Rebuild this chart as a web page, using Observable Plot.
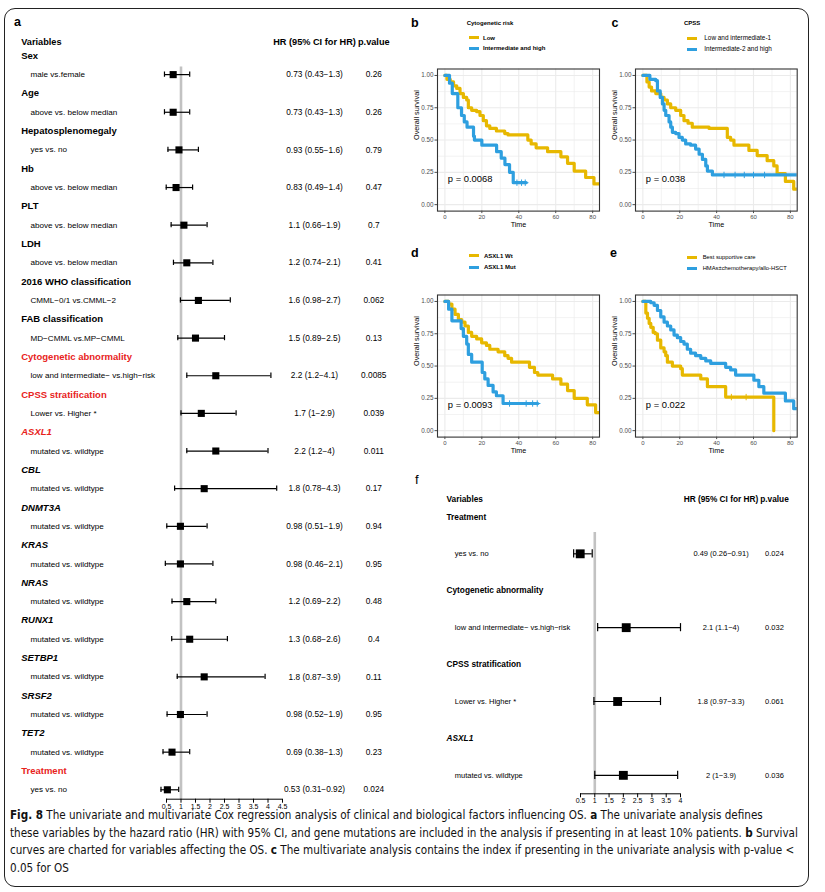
<!DOCTYPE html>
<html><head><meta charset="utf-8">
<script src="https://cdn.jsdelivr.net/npm/d3@7"></script>
<script src="https://cdn.jsdelivr.net/npm/@observablehq/plot@0.6"></script>
<style>
body{margin:0;background:#fff;}
#fig{position:relative;width:825px;height:892px;font-family:"Liberation Sans",Arial,sans-serif;color:#000;overflow:hidden;}
.abs{position:absolute;}
.box{position:absolute;left:4px;top:8px;width:805px;height:879px;border:1px solid #222;border-radius:11px;box-sizing:border-box;}
.plab{position:absolute;font-weight:bold;font-size:12.5px;line-height:12.5px;}
.leg{position:absolute;white-space:nowrap;line-height:8px;height:8px;}
.key{position:absolute;height:3px;width:10px;}
#cap{position:absolute;left:10px;top:807px;font-family:"Liberation Sans Narrow","DejaVu Sans Condensed",sans-serif;font-size:12.5px;line-height:17.7px;white-space:nowrap;color:#111;}
#cap span{display:inline-block;}
</style></head>
<body>
<div id="fig">
  <div class="box"></div>
  <div id="pa" class="abs" style="left:0;top:0"></div>
  <div id="pb" class="abs" style="left:405px;top:0"></div>
  <div id="pc" class="abs" style="left:610px;top:0"></div>
  <div id="pd" class="abs" style="left:405px;top:226px"></div>
  <div id="pe" class="abs" style="left:610px;top:226px"></div>
  <div id="pf" class="abs" style="left:410px;top:460px"></div>
  <div class="plab" style="left:14px;top:16.4px">a</div>
  <div class="plab" style="left:411px;top:17.4px">b</div>
  <div class="plab" style="left:611.5px;top:17.4px">c</div>
  <div class="plab" style="left:411px;top:247.4px">d</div>
  <div class="plab" style="left:610px;top:247.4px">e</div>
  <div class="plab" style="left:415px;top:474.4px;font-weight:normal;font-size:13px">f</div>
  <div id="legends"></div>
  <div id="cap">
    <span id="cl1"><b>Fig. 8</b> The univariate and multivariate Cox regression analysis of clinical and biological factors influencing OS. <b>a</b> The univariate analysis defines</span><br>
    <span id="cl2">these variables by the hazard ratio (HR) with 95% CI, and gene mutations are included in the analysis if presenting in at least 10% patients. <b>b</b> Survival</span><br>
    <span id="cl3">curves are charted for variables affecting the OS. <b>c</b> The multivariate analysis contains the index if presenting in the univariate analysis with p-value &lt;</span><br>
    <span id="cl4">0.05 for OS</span>
  </div>
</div>
<script>
// ---------- DATA: univariate Cox (panel a) ----------
const uniGroups = ["Sex","Age","Hepatosplenomegaly","Hb","PLT","LDH","2016 WHO classification","FAB classification","Cytogenetic abnormality","CPSS stratification","ASXL1","CBL","DNMT3A","KRAS","NRAS","RUNX1","SETBP1","SRSF2","TET2","Treatment"];
const uniLevels = ["male vs.female","above vs. below median","yes vs. no","above vs. below median","above vs. below median","above vs. below median","CMML−0/1 vs.CMML−2","MD−CMML vs.MP−CMML","low and intermediate− vs.high−risk","Lower vs. Higher *","mutated vs. wildtype","mutated vs. wildtype","mutated vs. wildtype","mutated vs. wildtype","mutated vs. wildtype","mutated vs. wildtype","mutated vs. wildtype","mutated vs. wildtype","mutated vs. wildtype","yes vs. no"];
const uniHR = [0.73,0.73,0.93,0.83,1.1,1.2,1.6,1.5,2.2,1.7,2.2,1.8,0.98,0.98,1.2,1.3,1.8,0.98,0.69,0.53];
const uniLo = [0.43,0.43,0.55,0.49,0.66,0.74,0.98,0.89,1.2,1,1.2,0.78,0.51,0.46,0.69,0.68,0.87,0.52,0.38,0.31];
const uniHi = [1.3,1.3,1.6,1.4,1.9,2.1,2.7,2.5,4.1,2.9,4,4.3,1.9,2.1,2.2,2.6,3.9,1.9,1.3,0.92];
const uniP = [0.26,0.26,0.79,0.47,0.7,0.41,0.062,0.13,0.0085,0.039,0.011,0.17,0.94,0.95,0.48,0.4,0.11,0.95,0.23,0.024];
const uniRed = ["Cytogenetic abnormality","CPSS stratification","ASXL1","Treatment"];
const geneNames = ["ASXL1","CBL","DNMT3A","KRAS","NRAS","RUNX1","SETBP1","SRSF2","TET2"];
const uniTicks = [0.5,1,1.5,2,2.5,3,3.5,4,4.5];

// ---------- DATA: multivariate Cox (panel f) ----------
const mvGroups = ["Treatment","Cytogenetic abnormality","CPSS stratification","ASXL1"];
const mvLevels = ["yes vs. no","low and intermediate− vs.high−risk","Lower vs. Higher *","mutated vs. wildtype"];
const mvHR = [0.49,2.1,1.8,2];
const mvLo = [0.26,1.1,0.97,1];
const mvHi = [0.91,4,3.3,3.9];
const mvP = [0.024,0.032,0.061,0.036];
const mvTicks = [0.5,1,1.5,2,2.5,3,3.5,4];

// ---------- DATA: Kaplan–Meier curves ----------
const bLowT = [0,1.1,2.9,4.7,6.4,8.2,10,11.8,12.7,14.5,17.2,19,20.8,22.5,24.3,27.9,32.4,34.2,44.9,46.7,49.4,55.6,62.8,66.4,70,76.2,80.7,83.7];
const bLowS = [1,0.97,0.95,0.92,0.9,0.86,0.83,0.81,0.75,0.73,0.72,0.69,0.65,0.61,0.59,0.57,0.55,0.54,0.5,0.47,0.44,0.41,0.37,0.32,0.26,0.21,0.16,0.16];
const bHighT = [0,2.5,4,7,9,10.5,12,15.5,16,20,28,30.5,32.5,35,37,44];
const bHighS = [1,0.94,0.86,0.75,0.69,0.64,0.6,0.53,0.5,0.46,0.41,0.36,0.31,0.25,0.17,0.17];

const cLowT = [0,2.2,3.4,4.7,7,9.7,11.5,13.3,15.1,17.8,20.5,22.3,24.5,26.8,35.9,45.8,47.6,49.4,57.5,62,67.4,71,72.8,77.3,81.8,83.7];
const cLowS = [1,0.95,0.91,0.88,0.86,0.83,0.81,0.78,0.75,0.73,0.69,0.65,0.63,0.6,0.59,0.52,0.5,0.46,0.42,0.38,0.34,0.3,0.24,0.18,0.12,0.12];
const cHighT = [0,3.8,7,7.9,9.4,10.6,11.5,12.4,14.2,15.1,16,17.8,19.6,21.4,23.2,25.9,28.6,30.5,32.3,34.1,35,37.7,83.7];
const cHighS = [1,0.97,0.96,0.88,0.83,0.78,0.73,0.69,0.64,0.6,0.56,0.55,0.52,0.5,0.47,0.46,0.43,0.39,0.35,0.3,0.26,0.23,0.23];

const dWtT = [0,2,3.8,5.5,7.3,9.1,10.9,12.7,14.5,17.2,19.9,22.5,24.3,28.8,32.4,34.2,36.1,45.8,48.5,50.3,58.3,62.8,66.4,70,77.1,81.6,83.7];
const dWtS = [1,0.98,0.94,0.9,0.86,0.84,0.81,0.76,0.73,0.71,0.68,0.66,0.63,0.61,0.58,0.56,0.53,0.49,0.45,0.43,0.4,0.36,0.31,0.25,0.2,0.14,0.14];
const dMutT = [0,2,3.8,8.8,10,11.8,12.7,14.5,20.2,21.6,23.4,26.1,27.9,31.5,50.3];
const dMutS = [1,0.94,0.85,0.79,0.73,0.67,0.59,0.53,0.45,0.4,0.35,0.3,0.27,0.21,0.21];

const eBscT = [0,1.6,2.5,3.4,4.3,5.6,6.7,7.9,9.7,11.5,12.4,13.3,16,20.5,21.4,31.4,35,44.9,71];
const eBscS = [1,0.91,0.87,0.83,0.8,0.76,0.75,0.7,0.64,0.61,0.58,0.53,0.5,0.48,0.43,0.4,0.34,0.26,0];
const eHmaT = [0,4.3,6.1,7.9,9.7,11.5,13.3,15.1,16.9,18.7,20.5,22.3,24.1,25.9,28.6,31.4,34.1,36.8,44.9,47.6,50.3,60.2,62.9,65.6,77.3,81.8,83.7];
const eHmaS = [1,0.99,0.97,0.93,0.88,0.84,0.81,0.78,0.74,0.72,0.69,0.67,0.63,0.6,0.58,0.56,0.54,0.52,0.49,0.47,0.43,0.39,0.34,0.29,0.23,0.17,0.17];

// censoring marks (time, survival)
const bCensT = [39,41.5,43.5], bCensS = [0.17,0.17,0.17];
const cCensT = [44,50,55,60,66], cCensS = [0.23,0.23,0.23,0.23,0.23];
const dCensT = [35,44,47.5,50], dCensS = [0.21,0.21,0.21,0.21];
const eCensT = [48,56], eCensS = [0.26,0.26];

const kmPvals = ["p = 0.0068","p = 0.038","p = 0.0093","p = 0.022"];
const legendTitles = ["Cytogenetic risk","CPSS","",""];
const legendLabels = [["Low","Intermediate and high"],["Low and intermediate-1","Intermediate-2 and high"],["ASXL1 Wt","ASXL1 Mut"],["Best supportive care","HMAs±chemotherapy/allo-HSCT"]];
const kmTicksX = [0,20,40,60,80];
const kmTicksY = [0,0.25,0.5,0.75,1];

// ---------- STYLE ----------
const RED = "#e8231c";
const YEL = "#E7B800", BLU = "#2E9FDF";
const FONT = "'Liberation Sans', Arial, sans-serif";
const GRID = "#ebebeb";

function forestPlot(o) {
  const rows = o.groups.map((g, i) => ({
    group: g, level: o.levels[i], hr: o.hr[i], lo: o.lo[i], hi: o.hi[i], p: String(o.p[i]),
    hrText: `${o.hr[i]} (${o.lo[i]}−${o.hi[i]})`,
    kh: 2 * i, kr: 2 * i + 1,
    red: o.red.includes(g), italic: o.italic.includes(g)
  }));
  const yMax = 2 * rows.length - 0.5;
  const x0 = o.ticks[0], x1 = o.ticks[o.ticks.length - 1];
  const headerMarks = [];
  for (const red of [false, true]) for (const it of [false, true]) {
    const sub = rows.filter(d => d.red === red && d.italic === it);
    if (sub.length) headerMarks.push(Plot.text(sub, {
      y: "kh", text: "group", frameAnchor: "left", dx: o.headDx, textAnchor: "start", lineAnchor: "middle",
      fontWeight: "bold", fontStyle: it ? "italic" : "normal", fill: red ? RED : "#000", fontSize: o.headFs
    }));
  }
  const top = {frameAnchor: "top-right", dy: o.topDy, textAnchor: "middle", lineAnchor: "middle", fontWeight: "bold", fontSize: o.topFs};
  return Plot.plot({
    width: o.width, height: o.height,
    marginLeft: o.mL, marginRight: o.mR, marginTop: o.mT, marginBottom: o.mB,
    style: {fontFamily: FONT, background: "transparent", overflow: "visible"},
    x: {domain: [x0, x1], label: null},
    y: {domain: [0, yMax], reverse: true, axis: null},
    marks: [
      Plot.ruleX([1], {y1: o.lineTop, y2: yMax, stroke: "#c2c2c2", strokeWidth: 2.6}),
      Plot.ruleY(rows, {y: "kr", x1: "lo", x2: "hi", stroke: "#000", strokeWidth: 1.2}),
      Plot.ruleX(rows, {x: "lo", y1: d => d.kr - o.cap, y2: d => d.kr + o.cap, stroke: "#000", strokeWidth: 1.2}),
      Plot.ruleX(rows, {x: "hi", y1: d => d.kr - o.cap, y2: d => d.kr + o.cap, stroke: "#000", strokeWidth: 1.2}),
      Plot.dot(rows, {x: "hr", y: "kr", symbol: "square", r: o.sq, fill: "#000", stroke: "none"}),
      Plot.ruleY([yMax], {x1: x0, x2: x1, stroke: "#000", strokeWidth: 1}),
      Plot.axisX({ticks: o.ticks, tickFormat: d => String(d), tickSize: 4, tickPadding: 0.5, fontSize: 7, label: null, color: "#000"}),
      Plot.text(["Variables"], {...top, frameAnchor: "top-left", dx: o.headDx, textAnchor: "start"}),
      Plot.text(["HR (95% CI for HR)"], {...top, dx: o.hrDx}),
      Plot.text(["p.value"], {...top, dx: o.pDx}),
      ...headerMarks,
      Plot.text(rows, {y: "kr", text: "level", frameAnchor: "left", dx: o.levDx, textAnchor: "start", lineAnchor: "middle", fontSize: o.levFs}),
      Plot.text(rows, {y: "kr", text: "hrText", frameAnchor: "right", dx: o.hrDx, textAnchor: "middle", lineAnchor: "middle", fontSize: o.valFs}),
      Plot.text(rows, {y: "kr", text: "p", frameAnchor: "right", dx: o.pDx, textAnchor: "middle", lineAnchor: "middle", fontSize: o.valFs})
    ]
  });
}

document.getElementById("pa").append(forestPlot({
  groups: uniGroups, levels: uniLevels, hr: uniHR, lo: uniLo, hi: uniHi, p: uniP,
  red: uniRed, italic: geneNames, ticks: uniTicks,
  width: 405, height: 815, mL: 166, mR: 123, mT: 55.3, mB: 16.3,
  headDx: -145.3, levDx: -136, hrDx: 32, pDx: 91.3, topDy: -13.6,
  headFs: 9.5, levFs: 8.1, valFs: 8.3, topFs: 9.2, cap: 0.14, sq: 4, lineTop: 0.6
}));

document.getElementById("pf").append(forestPlot({
  groups: mvGroups, levels: mvLevels, hr: mvHR, lo: mvLo, hi: mvHi, p: mvP,
  red: [], italic: ["ASXL1"], ticks: mvTicks,
  width: 405, height: 350, mL: 170, mR: 135, mT: 56.4, mB: 16.7,
  headDx: -134, levDx: -125.7, hrDx: 40.5, pDx: 94, topDy: -17.1,
  headFs: 8.3, levFs: 7.5, valFs: 7.5, topFs: 8.3, cap: 0.11, sq: 5, lineTop: 0.42
}));

function kmPlot(o) {
  const series = o.series.map(s => s.t.map((t, j) => ({t, s: s.s[j]})));
  const cens = o.censT.map((t, j) => ({t, s: o.censS[j]}));
  return Plot.plot({
    width: o.width, height: o.height,
    marginLeft: o.mL, marginRight: o.mR, marginTop: 68.5, marginBottom: 19.4,
    style: {fontFamily: FONT, background: "transparent", overflow: "visible"},
    x: {domain: [-4, 83.7], label: null},
    y: {domain: [-0.05, 1.05], label: null},
    marks: [
      Plot.gridX({ticks: [10,30,50,70], stroke: GRID, strokeOpacity: 1, strokeWidth: 0.6}),
      Plot.gridY({ticks: [0.125,0.375,0.625,0.875], stroke: GRID, strokeOpacity: 1, strokeWidth: 0.6}),
      Plot.gridX({ticks: kmTicksX, stroke: GRID, strokeOpacity: 1, strokeWidth: 1.1}),
      Plot.gridY({ticks: kmTicksY, stroke: GRID, strokeOpacity: 1, strokeWidth: 1.1}),
      ...series.map((d, i) => Plot.line(d, {x: "t", y: "s", curve: "step-after", stroke: [YEL, BLU][i], strokeWidth: 3.2, clip: true})),
      Plot.dot(cens, {x: "t", y: "s", symbol: "plus", r: 2.2, stroke: o.censColor, strokeWidth: 1}),
      Plot.text([o.p], {x: 1.6, y: 0.2, textAnchor: "start", lineAnchor: "middle", fontSize: 9.4, fill: "#000"}),
      Plot.frame({stroke: "#333", strokeWidth: 1.1}),
      Plot.axisX({ticks: kmTicksX, tickSize: 2.5, tickPadding: 1.5, fontSize: 6, color: "#4d4d4d", label: null}),
      Plot.axisY({ticks: kmTicksY, tickFormat: d3.format(".2f"), tickSize: 2.5, tickPadding: 1.5, fontSize: 6.3, color: "#4d4d4d", label: null}),
      Plot.text(["Time"], {frameAnchor: "bottom", lineAnchor: "middle", dy: 13.9, fontSize: 7.2, fill: "#000"}),
      Plot.text(["Overall survival"], {frameAnchor: "left", lineAnchor: "middle", dx: -20.5, rotate: -90, fontSize: 7.3, fill: "#000"})
    ]
  });
}

const kmSpecs = [
  {id: "pb", width: 205, height: 230, mL: 32, mR: 11, series: [{t: bLowT, s: bLowS}, {t: bHighT, s: bHighS}], censT: bCensT, censS: bCensS, censColor: BLU},
  {id: "pc", width: 200, height: 230, mL: 25, mR: 13.3, series: [{t: cLowT, s: cLowS}, {t: cHighT, s: cHighS}], censT: cCensT, censS: cCensS, censColor: BLU},
  {id: "pd", width: 205, height: 230, mL: 32, mR: 11, series: [{t: dWtT, s: dWtS}, {t: dMutT, s: dMutS}], censT: dCensT, censS: dCensS, censColor: BLU},
  {id: "pe", width: 200, height: 230, mL: 25, mR: 13.3, series: [{t: eBscT, s: eBscS}, {t: eHmaT, s: eHmaS}], censT: eCensT, censS: eCensS, censColor: YEL}
];
kmSpecs.forEach((spec, i) => {
  document.getElementById(spec.id).append(kmPlot({...spec, p: kmPvals[i]}));
});

// legends (HTML)
const legLayout = [
  {tx: 466.7, ty: 23.3, kx: 469.3, lx: 483, ys: [37.7, 48.3], fs: 6, fw: "bold"},
  {tx: 684, ty: 23.3, kx: 687.3, lx: 704.3, ys: [38.3, 49.3], fs: 6.4, fw: "normal"},
  {tx: 0, ty: 0, kx: 469, lx: 484, ys: [255.7, 267.3], fs: 6, fw: "bold"},
  {tx: 0, ty: 0, kx: 687, lx: 702.7, ys: [257.3, 268.3], fs: 5.8, fw: "normal"}
];
const legRoot = document.getElementById("legends");
legLayout.forEach((L, i) => {
  if (legendTitles[i]) {
    const t = document.createElement("div");
    t.className = "leg";
    t.style.cssText = `left:${L.tx}px;top:${L.ty - 4}px;font-size:6px;font-weight:bold;`;
    t.textContent = legendTitles[i];
    legRoot.append(t);
  }
  legendLabels[i].forEach((lab, j) => {
    const k = document.createElement("div");
    k.className = "key";
    k.style.cssText = `left:${L.kx}px;top:${L.ys[j] - 1.5}px;background:${[YEL, BLU][j]};`;
    legRoot.append(k);
    const t = document.createElement("div");
    t.className = "leg";
    t.style.cssText = `left:${L.lx}px;top:${L.ys[j] - 4}px;font-size:${L.fs}px;font-weight:${L.fw};`;
    t.textContent = lab;
    legRoot.append(t);
  });
});

// fit caption width to the reference (line 2 ends near x=799)
const cap = document.getElementById("cap");
const w2 = document.getElementById("cl2").getBoundingClientRect().width;
cap.style.fontSize = (12.5 * 789 / w2) + "px";
</script>
</body></html>
